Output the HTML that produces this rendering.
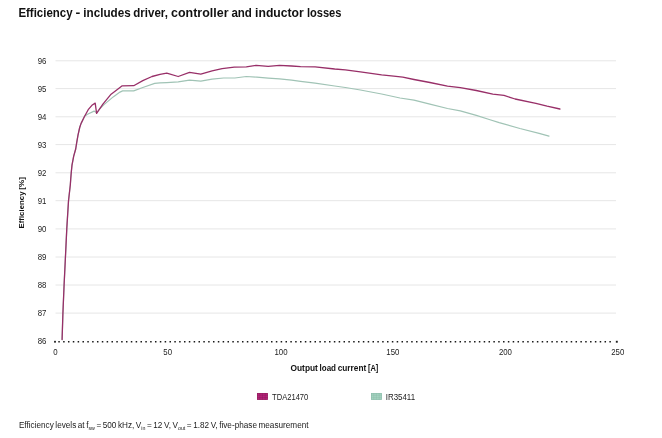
<!DOCTYPE html>
<html>
<head>
<meta charset="utf-8">
<title>Efficiency</title>
<style>
  html, body { margin: 0; padding: 0; background: #ffffff; }
  body { width: 662px; height: 438px; overflow: hidden; position: relative;
         font-family: "Liberation Sans", sans-serif; color: #1a1a1a; }
  svg { position: absolute; left: 0; top: 0; will-change: transform; }
  svg text { font-family: "Liberation Sans", sans-serif; }
  .title { font-size: 12.2px; font-weight: bold; fill: #111111; }
  .tick  { font-size: 8.7px; fill: #1c1c1c; }
  .axis  { font-size: 8.4px; font-weight: bold; fill: #111111; }
  .yaxis { font-size: 7.8px; font-weight: bold; fill: #111111; }
  .leg   { font-size: 8.7px; fill: #1c1c1c; }
  .foot  { font-size: 9px; fill: #1a1a1a; }
  .grid line { stroke: #e6e6e6; stroke-width: 1; }
</style>
</head>
<body>
<svg width="662" height="438" viewBox="0 0 662 438">
  <rect x="0" y="0" width="662" height="438" fill="#ffffff"/>

  <!-- title -->
  <g class="title" id="title">
    <text x="18.4" y="16.8" textLength="54.2" lengthAdjust="spacingAndGlyphs">Efficiency</text>
    <text x="75.6" y="16.8" textLength="4.8" lengthAdjust="spacingAndGlyphs">-</text>
    <text x="83.3" y="16.8" textLength="47.4" lengthAdjust="spacingAndGlyphs">includes</text>
    <text x="133.3" y="16.8" textLength="34.6" lengthAdjust="spacingAndGlyphs">driver,</text>
    <text x="171.1" y="16.8" textLength="57.4" lengthAdjust="spacingAndGlyphs">controller</text>
    <text x="231.4" y="16.8" textLength="20.5" lengthAdjust="spacingAndGlyphs">and</text>
    <text x="255.1" y="16.8" textLength="48.7" lengthAdjust="spacingAndGlyphs">inductor</text>
    <text x="306.9" y="16.8" textLength="34.6" lengthAdjust="spacingAndGlyphs">losses</text>
  </g>

  <!-- horizontal grid lines -->
  <g class="grid">
    <line x1="55.5" x2="616" y1="60.8" y2="60.8"/>
    <line x1="55.5" x2="616" y1="88.6" y2="88.6"/>
    <line x1="55.5" x2="616" y1="116.8" y2="116.8"/>
    <line x1="55.5" x2="616" y1="144.6" y2="144.6"/>
    <line x1="55.5" x2="616" y1="172.8" y2="172.8"/>
    <line x1="55.5" x2="616" y1="200.7" y2="200.7"/>
    <line x1="55.5" x2="616" y1="228.9" y2="228.9"/>
    <line x1="55.5" x2="616" y1="257.0" y2="257.0"/>
    <line x1="55.5" x2="616" y1="285.0" y2="285.0"/>
    <line x1="55.5" x2="616" y1="313.1" y2="313.1"/>
  </g>

  <!-- dotted baseline -->
  <line x1="58.3" x2="611.4" y1="341.75" y2="341.75" stroke="#1a1a1a" stroke-width="1.5" stroke-dasharray="1.5 3.334"/>
  <rect x="615.85" y="340.8" width="1.9" height="1.9" fill="#1e1e1e"/>
  <rect x="54.1" y="340.85" width="1.8" height="1.8" fill="#1e1e1e"/>

  <!-- y tick labels -->
  <g class="tick" text-anchor="end">
    <text transform="translate(46.4 63.95) scale(0.9 1)">96</text>
    <text transform="translate(46.4 91.75) scale(0.9 1)">95</text>
    <text transform="translate(46.4 119.95) scale(0.9 1)">94</text>
    <text transform="translate(46.4 147.75) scale(0.9 1)">93</text>
    <text transform="translate(46.4 175.95) scale(0.9 1)">92</text>
    <text transform="translate(46.4 203.85) scale(0.9 1)">91</text>
    <text transform="translate(46.4 232.05) scale(0.9 1)">90</text>
    <text transform="translate(46.4 260.15) scale(0.9 1)">89</text>
    <text transform="translate(46.4 288.15) scale(0.9 1)">88</text>
    <text transform="translate(46.4 316.25) scale(0.9 1)">87</text>
    <text transform="translate(46.4 344.10) scale(0.9 1)">86</text>
  </g>

  <!-- x tick labels -->
  <g class="tick" text-anchor="middle">
    <text transform="translate(55.5 355.05) scale(0.9 1)">0</text>
    <text transform="translate(167.7 355.05) scale(0.9 1)">50</text>
    <text transform="translate(281.0 355.05) scale(0.9 1)">100</text>
    <text transform="translate(392.8 355.05) scale(0.9 1)">150</text>
    <text transform="translate(505.4 355.05) scale(0.9 1)">200</text>
    <text transform="translate(617.7 355.05) scale(0.9 1)">250</text>
  </g>

  <!-- axis titles -->
  <g class="axis" id="xtitle">
    <text x="290.5" y="371.3" textLength="27.4" lengthAdjust="spacingAndGlyphs">Output</text>
    <text x="319.5" y="371.3" textLength="16.5" lengthAdjust="spacingAndGlyphs">load</text>
    <text x="337.7" y="371.3" textLength="28.5" lengthAdjust="spacingAndGlyphs">current</text>
    <text x="367.9" y="371.3" textLength="10.4" lengthAdjust="spacingAndGlyphs">[A]</text>
  </g>
  <g class="yaxis" id="ytitle" transform="translate(23.8 228.0) rotate(-90)">
    <text x="-0.5" y="0" textLength="37.0" lengthAdjust="spacingAndGlyphs">Efficiency</text>
    <text x="38.3" y="0" textLength="12.7" lengthAdjust="spacingAndGlyphs">[%]</text>
  </g>

  <!-- IR35411 (teal) -->
  <polyline fill="none" stroke="#a0c3b5" stroke-width="1.2" stroke-linejoin="round" stroke-linecap="round"
    points="62.1,339.6 62.9,313.5 64.1,284.8 65.3,260 66.8,228.4 68.5,201 70.3,185 70.8,178 71.3,172 72.0,165.1 73.7,156.2 75.7,149 76.7,142.6 78.0,135.1 79.7,127.5 81.1,123.4 84.6,116.2 87.5,114.2 94.1,111.1 96.6,112.8 100.0,108.5 104.3,104.4 113.2,96.9 120.0,92.1 122.6,90.9 133.7,90.9 142.8,87.5 154.7,83.4 160.0,82.9 166.8,82.6 178.2,81.9 189.5,80.2 200.8,81.1 212.1,79.2 223.6,78 234.9,78 246.3,76.5 256.8,77.2 268.2,78.1 279.5,78.9 291.6,80.2 300.6,81.4 315.1,83.2 334.7,86 345.3,87.5 360.4,90 381.6,94 400,98 414,100.2 429.9,104.2 447.5,108.5 460.3,110.9 476.3,115.4 490,119.7 499.2,122.6 519.9,128.5 539.1,133.3 549,136.2"/>

  <!-- TDA21470 (purple) -->
  <polyline fill="none" stroke="#982f68" stroke-width="1.3" stroke-linejoin="round" stroke-linecap="round"
    points="62.1,339.6 62.9,313.5 64.1,284.8 65.3,260 66.8,228.4 68.5,201 70.3,185 70.8,178 71.3,172 72.0,165.1 73.7,156.2 75.7,149 76.7,142.6 78.0,135.1 79.7,127.5 81.1,123.4 84.6,116.2 88.2,109.7 91.9,105.3 95.2,103.1 96.6,113.3 102.9,104.1 111.1,94.2 119.3,88.0 122.2,85.8 133.7,85.7 142.8,80.6 152.0,76.5 160.0,74.3 166.8,73.1 178.2,76.5 189.5,72.4 200.8,74.2 212.1,70.9 222.1,68.6 234.2,67.1 246.3,66.8 256.1,65.3 268.2,66.3 279.5,65.3 291.6,66.0 300.6,66.7 315.1,66.8 334.7,69 345.3,69.8 360.4,71.9 381.6,74.9 393.7,76.1 402.8,77.2 414,79.5 429.9,82.5 447.5,86.2 460.3,87.7 476.3,90.5 492.8,94.2 504,95.4 515.1,99 535.9,103.4 547.1,106.2 559.9,109"/>

  <!-- legend -->
  <rect x="257.0" y="393.0" width="10.9" height="6.9" fill="#b7237a"/>
  <path d="M259.7 393v6.9M262.45 393v6.9M265.2 393v6.9M257 395.3h10.9M257 397.6h10.9" stroke="#7a1a52" stroke-width="0.7" fill="none" opacity="0.45"/>
  <rect x="257.3" y="393.3" width="10.3" height="6.3" fill="none" stroke="#80204f" stroke-width="0.6" opacity="0.7"/>
  <text class="leg" transform="translate(272.0 399.6) scale(0.875 1)">TDA21470</text>
  <rect x="371.0" y="393.0" width="10.9" height="6.9" fill="#a3d3c0"/>
  <path d="M373.7 393v6.9M376.45 393v6.9M379.2 393v6.9M371 395.3h10.9M371 397.6h10.9" stroke="#86b5a3" stroke-width="0.7" fill="none" opacity="0.45"/>
  <rect x="371.3" y="393.3" width="10.3" height="6.3" fill="none" stroke="#8bb9a8" stroke-width="0.6" opacity="0.9"/>
  <text class="leg" transform="translate(385.8 399.6) scale(0.91 1)">IR35411</text>

  <!-- footnote -->
  <text id="foot" class="foot" word-spacing="-0.8" transform="translate(18.9 428.1) scale(0.911 1)">Efficiency levels at f<tspan font-size="5.8" dy="1.7">sw</tspan><tspan dy="-1.7"> = 500 kHz, V</tspan><tspan font-size="5.8" dy="1.7">in</tspan><tspan dy="-1.7"> = 12 V, V</tspan><tspan font-size="5.8" dy="1.7">out</tspan><tspan dy="-1.7"> = 1.82 V, five-phase measurement</tspan></text>
</svg>
</body>
</html>
